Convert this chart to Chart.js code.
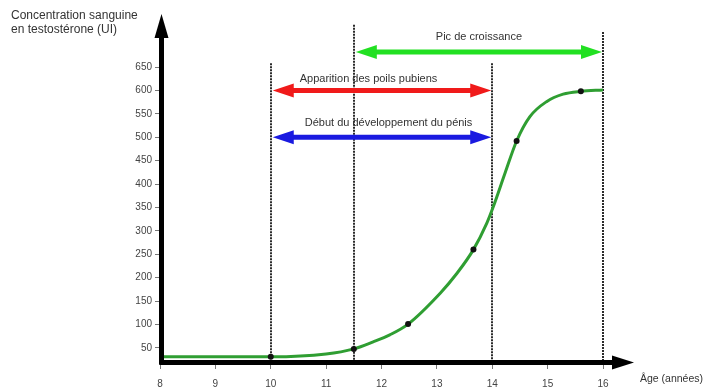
<!DOCTYPE html>
<html>
<head>
<meta charset="utf-8">
<script src="https://cdn.jsdelivr.net/npm/chart.js@4/dist/chart.umd.min.js"></script>
<style>
  html, body { margin: 0; padding: 0; background: #fff; }
  canvas { display: block; }
</style>
</head>
<body>
<canvas id="chart" width="704" height="390"></canvas>
<script>
// curve (age in years, testosterone in UI)
const ages  = [8, 9, 10, 11, 11.5, 11.85, 12.15, 12.48, 13.06, 13.36, 13.66, 13.9, 14.02, 14.23, 14.44, 14.68, 14.98, 15.28, 15.6, 16];
const testo = [31, 31, 31, 37, 48, 63, 78, 101, 167, 209, 260, 316, 352, 423, 492, 544, 576, 592, 598, 601];
const markedAges = [10, 11.5, 12.48, 13.66, 14.44, 15.6];

const xTicks = [8, 9, 10, 11, 12, 13, 14, 15, 16];
const yTicks = [50, 100, 150, 200, 250, 300, 350, 400, 450, 500, 550, 600, 650];

// dotted guide lines: age and top value
const guideAges = [10, 11.5, 14, 16];
const guideTops = [658, 740, 658, 725];

// double arrows
const spanLabels = ["Pic de croissance", "Apparition des poils pubiens", "Début du développement du pénis"];
const spanStart = [11.5, 10, 10];
const spanEnd   = [16, 14, 14];
const spanLevel = [682, 600, 500];

const yTitle = ["Concentration sanguine", "en testostérone (UI)"];
const xTitle = "Âge (années)";

///////////////////////////////
// styles for the drawings
///////////////////////////////
const spanColors = ["#22e022", "#f01a1a", "#1a1ae0"];
const spanText = [
  { align: "center", dx: 0, dy: -15 },
  { align: "left", dx: 27, dy: -11 },
  { align: "left", dx: 32, dy: -14 }
];
const FONT = "'Liberation Sans', Arial, sans-serif";

function arrowHead(ctx, x, y, dir, len, half, color) {
  ctx.fillStyle = color;
  ctx.beginPath();
  if (dir === "left") {
    ctx.moveTo(x, y); ctx.lineTo(x + len, y - half); ctx.lineTo(x + len, y + half);
  } else if (dir === "right") {
    ctx.moveTo(x, y); ctx.lineTo(x - len, y - half); ctx.lineTo(x - len, y + half);
  } else {
    ctx.moveTo(x, y); ctx.lineTo(x - half, y + len); ctx.lineTo(x + half, y + len);
  }
  ctx.closePath();
  ctx.fill();
}

const drawing = {
  id: "drawing",
  beforeDatasetsDraw(chart) {
    const { ctx, scales: { x, y } } = chart;
    ctx.save();
    ctx.strokeStyle = "#2b2b2b";
    ctx.lineWidth = 2;
    ctx.setLineDash([2, 1]);
    guideAges.forEach((a, i) => {
      const px = Math.round(x.getPixelForValue(a));
      ctx.beginPath();
      ctx.moveTo(px, y.getPixelForValue(guideTops[i]));
      ctx.lineTo(px, chart.chartArea.bottom);
      ctx.stroke();
    });
    ctx.restore();
  },
  afterDatasetsDraw(chart) {
    const { ctx, chartArea, scales: { x, y } } = chart;
    const x0 = chartArea.left + 1.5;
    const y0 = chartArea.bottom + 0.5;
    ctx.save();

    // axes
    ctx.strokeStyle = "#000";
    ctx.lineWidth = 5;
    ctx.setLineDash([]);
    ctx.beginPath();
    ctx.moveTo(x0, y0 + 2);
    ctx.lineTo(x0, 37);
    ctx.moveTo(x0 - 2, y0);
    ctx.lineTo(614, y0);
    ctx.stroke();
    arrowHead(ctx, x0, 14, "up", 24, 7, "#000");
    arrowHead(ctx, 634, y0, "right", 22, 7, "#000");

    // span arrows
    spanLabels.forEach((label, i) => {
      const xa = x.getPixelForValue(spanStart[i]) + 2;
      const xb = x.getPixelForValue(spanEnd[i]) - 1;
      const py = y.getPixelForValue(spanLevel[i]);
      ctx.strokeStyle = spanColors[i];
      ctx.lineWidth = 5;
      ctx.beginPath();
      ctx.moveTo(xa + 18, py);
      ctx.lineTo(xb - 18, py);
      ctx.stroke();
      arrowHead(ctx, xa, py, "left", 21, 7, spanColors[i]);
      arrowHead(ctx, xb, py, "right", 21, 7, spanColors[i]);

      const t = spanText[i];
      ctx.fillStyle = "#333";
      ctx.font = "11px " + FONT;
      ctx.textBaseline = "middle";
      ctx.textAlign = t.align;
      const tx = t.align === "center" ? (xa + xb) / 2 + t.dx : xa + t.dx;
      ctx.fillText(label, tx, py + t.dy);
    });

    // titles
    ctx.fillStyle = "#333";
    ctx.textAlign = "left";
    ctx.textBaseline = "middle";
    ctx.font = "12px " + FONT;
    ctx.fillText(yTitle[0], 11, 16);
    ctx.fillText(yTitle[1], 11, 30);
    ctx.font = "10.5px " + FONT;
    ctx.textAlign = "right";
    ctx.fillText(xTitle, 703, 379);
    ctx.restore();
  }
};

const chart = new Chart(document.getElementById("chart"), {
  type: "line",
  data: {
    datasets: [{
      data: ages.map((a, i) => ({ x: a, y: testo[i] })),
      borderColor: "#2f9e32",
      borderWidth: 3,
      cubicInterpolationMode: "monotone",
      pointRadius: ages.map(a => markedAges.includes(a) ? 3 : 0),
      pointBackgroundColor: "#111",
      pointBorderColor: "#111",
      pointBorderWidth: 0
    }]
  },
  options: {
    responsive: false,
    animation: false,
    events: [],
    layout: { padding: { left: 0, right: 101, top: 67, bottom: 0 } },
    plugins: { legend: { display: false }, tooltip: { enabled: false } },
    scales: {
      x: {
        type: "linear",
        min: 8,
        max: 16,
        afterBuildTicks: s => { s.ticks = xTicks.map(v => ({ value: v })); },
        afterFit: s => { s.height = 28; },
        border: { display: false },
        grid: { drawOnChartArea: false, tickLength: 7, color: "#777" },
        ticks: { padding: 9, color: "#444", font: { size: 10, family: FONT }, autoSkip: false, maxRotation: 0 }
      },
      y: {
        min: 20,
        max: 650,
        afterBuildTicks: s => { s.ticks = yTicks.map(v => ({ value: v })); },
        afterFit: s => { s.width = 160; },
        border: { display: false },
        grid: { drawOnChartArea: false, tickLength: 5, color: "#777" },
        ticks: { padding: 3, color: "#444", font: { size: 10, family: FONT } }
      }
    }
  },
  plugins: [drawing]
});
</script>
</body>
</html>
